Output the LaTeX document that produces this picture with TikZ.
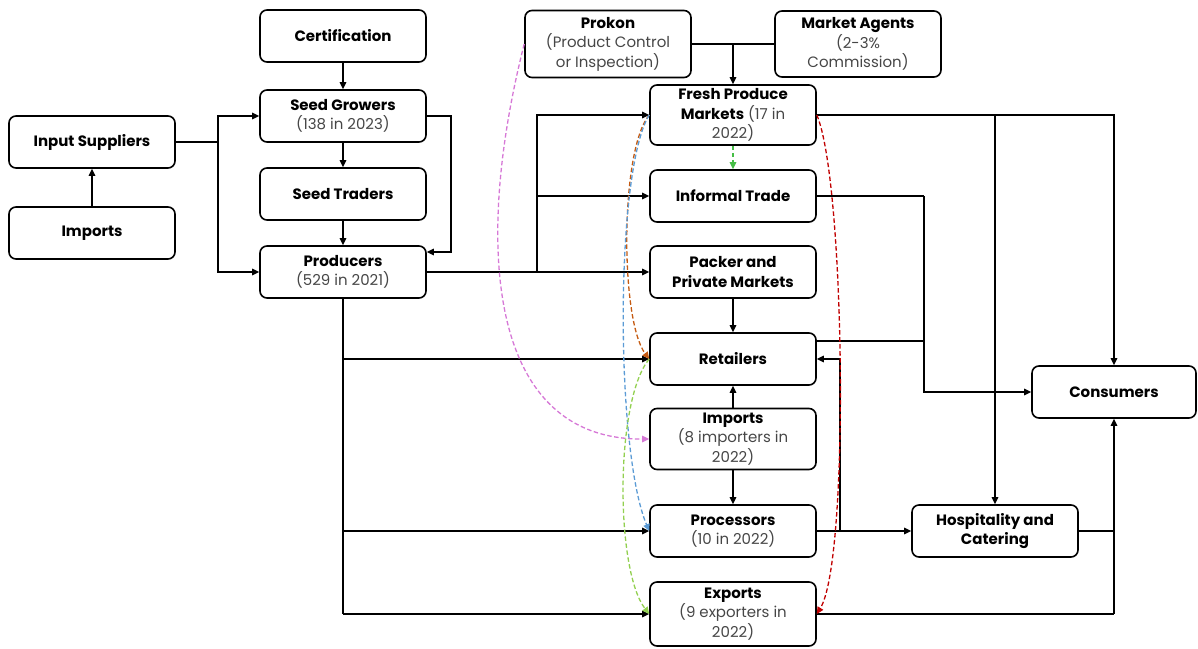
\documentclass[tikz,border=0pt]{standalone}
\usepackage{fontspec}
\setmainfont{Poppins}
\usetikzlibrary{arrows.meta,calc}
\definecolor{subgray}{RGB}{70,70,70}
\definecolor{cpink}{RGB}{214,120,214}
\definecolor{cbrown}{RGB}{197,90,17}
\definecolor{cblue}{RGB}{91,155,213}
\definecolor{clgreen}{RGB}{146,208,80}
\definecolor{cgreen}{RGB}{70,190,70}
\definecolor{cred}{RGB}{192,0,0}
\newcommand{\st}[1]{{\color{subgray}#1}}
\tikzset{
  box/.style={draw, line width=1.6pt, rounded corners=7pt, minimum width=166pt,
    minimum height=52pt, align=center, inner sep=1pt,
    font=\fontsize{15}{19.5}\selectfont},
  arr/.style={line width=1.5pt, -{Triangle[length=7pt,width=6.5pt]}},
  ln/.style={line width=1.5pt},
  dsh/.style={line width=1.3pt, dash pattern=on 4.5pt off 2.5pt, -{Triangle[length=7pt,width=6.5pt]}}
}
\begin{document}
\begin{tikzpicture}[x=1pt,y=-1pt]
\useasboundingbox (0,0) rectangle (1198,648);
% nodes
\node[box] (cert) at (343,36) {\textbf{Certification}};
\node[box] (sg) at (343,116) {\textbf{Seed Growers}\\\st{(138 in 2023)}};
\node[box] (st) at (343,194) {\textbf{Seed Traders}};
\node[box] (prod) at (343,272) {\textbf{Producers}\\\st{(529 in 2021)}};
\node[box] (inp) at (92,142) {\textbf{Input Suppliers}};
\node[box] (impl) at (92,233) {\textbf{Imports}};
\node[box, minimum height=67pt] (prokon) at (608,44) {\textbf{Prokon}\\\st{(Product Control}\\\st{or Inspection)}};
\node[box, minimum height=66pt] (ma) at (858,44) {\textbf{Market Agents}\\\st{(2-3\%}\\\st{Commission)}};
\node[box, minimum height=60pt] (fpm) at (733,115) {\textbf{Fresh Produce}\\\textbf{Markets} \st{(17 in}\\\st{2022)}};
\node[box] (inf) at (733,196) {\textbf{Informal Trade}};
\node[box] (pack) at (733,272) {\textbf{Packer and}\\\textbf{Private Markets}};
\node[box] (ret) at (733,359) {\textbf{Retailers}};
\node[box, minimum height=61pt] (impm) at (733,439) {\textbf{Imports}\\\st{(8 importers in}\\\st{2022)}};
\node[box] (proc) at (733,531) {\textbf{Processors}\\\st{(10 in 2022)}};
\node[box, minimum height=64pt] (exp) at (733,614) {\textbf{Exports}\\\st{(9 exporters in}\\\st{2022)}};
\node[box, minimum width=164pt] (cons) at (1114,392) {\textbf{Consumers}};
\node[box] (hosp) at (995,531) {\textbf{Hospitality and}\\\textbf{Catering}};
% junction coordinates
\coordinate (j1) at (451,252);
\coordinate (jin) at (218,142);
\coordinate (jp) at (537,272);
\coordinate (jb) at (343,614);
\coordinate (jpm) at (733,44);
\coordinate (jf) at (995,115);
\coordinate (ji) at (924,196);
\coordinate (jr) at (924,341);
\coordinate (jpr) at (840,531);
\coordinate (je) at (1114,614);
% left part
\draw[arr] (cert) -- (sg);
\draw[arr] (sg) -- (st);
\draw[arr] (st) -- (prod);
\draw[arr] (sg.east) -| (j1) -- (j1 -| prod.east);
\draw[arr] (impl) -- (inp);
\draw[ln] (inp.east) -- (jin);
\draw[arr] (jin) |- (sg.west);
\draw[arr] (jin) |- (prod.west);
% producers right
\draw[arr] (prod.east) -- (pack.west);
\draw[arr] (jp) |- (fpm.west);
\draw[arr] (jp) |- (inf.west);
% producers bottom
\draw[ln] (prod.south) -- (jb);
\draw[arr] (jb) -- (exp.west);
\draw[arr] (prod.south |- ret.west) -- (ret.west);
\draw[arr] (prod.south |- proc.west) -- (proc.west);
% prokon / market agents
\draw[ln] (prokon.east) -- (ma.west);
\draw[arr] (jpm) -- (fpm.north);
% middle column
\draw[arr] (pack) -- (ret);
\draw[arr] (impm) -- (ret);
\draw[arr] (impm) -- (proc);
% right side
\draw[ln] (fpm.east) -- (jf);
\draw[arr] (jf) -| (cons.north);
\draw[arr] (jf) -- (hosp.north);
\draw[ln] (inf.east) -- (ji);
\draw[arr] (ji) |- (cons.west);
\draw[ln] (jr -| ret.east) -- (jr);
\draw[arr] (proc.east) -- (hosp.west);
\draw[arr] (jpr) |- (ret.east);
\draw[ln] (exp.east) -- (je);
\draw[arr] (je) -- (cons.south);
\draw[ln] (hosp.east) -- (hosp.east -| cons.south);
% dashed curves
\draw[dsh, cgreen] (fpm.south) -- (inf.north);
\draw[dsh, cpink] (prokon.west) .. controls (472,250) and (490,440) .. (impm.west);
\draw[dsh, cbrown] (fpm.west) .. controls (620,150) and (620,320) .. (ret.west);
\draw[dsh, cblue] (fpm.west) .. controls (615,170) and (615,450) .. (proc.west);
\draw[dsh, clgreen] (ret.west) .. controls (615,400) and (615,570) .. (exp.west);
\draw[dsh, cred] (fpm.east) .. controls (845,180) and (850,560) .. (exp.east);
\end{tikzpicture}
\end{document}
